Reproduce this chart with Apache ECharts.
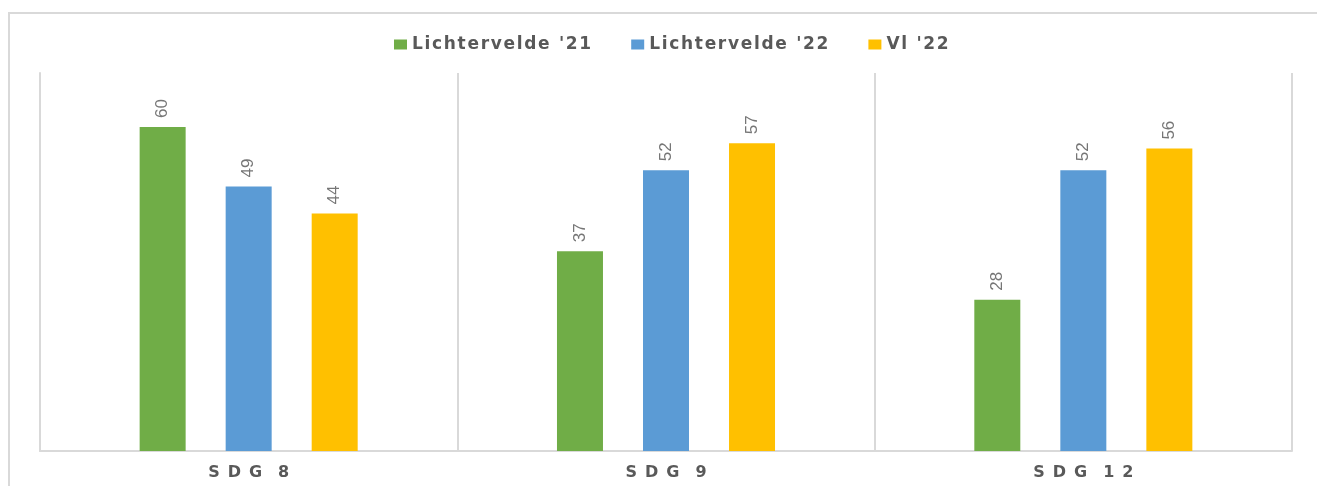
<!DOCTYPE html>
<html>
<head>
<meta charset="utf-8">
<script src="https://cdn.jsdelivr.net/npm/echarts@6/dist/echarts.min.js"></script>
<style>
  html, body { margin: 0; padding: 0; background: #fff; }
  #chart { width: 1317px; height: 486px; }
</style>
</head>
<body>
<div id="chart"></div>
<script>
  const categories = ['SDG 8', 'SDG 9', 'SDG 12'];
  const seriesNames = ["Lichtervelde '21", "Lichtervelde '22", "Vl '22"];
  const lichtervelde21 = [60, 37, 28];
  const lichtervelde22 = [49, 52, 52];
  const vl22 = [44, 57, 56];
  const colors = ['#70ad47', '#5b9bd5', '#ffc000'];

  // expanded character spacing, like the original
  const spaced = (s, gap) => s.split('').join(gap);

  const chart = echarts.init(document.getElementById('chart'));

  const makeSeries = (name, data) => ({
    name,
    type: 'bar',
    data,
    barWidth: 46,
    barGap: '87%',
    label: {
      show: true,
      position: 'top',
      rotate: 90,
      align: 'left',
      verticalAlign: 'middle',
      distance: 9,
      color: '#767676',
      fontFamily: 'Liberation Sans Narrow, Liberation Sans, sans-serif',
      fontSize: 17
    }
  });

  chart.setOption({
    color: colors,
    animation: false,
    graphic: [
      {
        type: 'rect',
        shape: { x: 9, y: 13, width: 1400, height: 600 },
        style: { fill: 'none', stroke: '#d9d9d9', lineWidth: 2 },
        silent: true
      }
    ],
    legend: {
      top: 31,
      left: 389,
      itemWidth: 13,
      itemHeight: 10,
      itemGap: 40,
      icon: 'rect',
      formatter: name => spaced(name, '\u200A'),
      textStyle: {
        color: '#595959',
        fontWeight: 'bold',
        fontSize: 17,
        fontFamily: 'DejaVu Sans, sans-serif'
      },
      data: seriesNames
    },
    grid: {
      left: 40,
      right: 25,
      top: 73,
      bottom: 35,
      containLabel: false
    },
    xAxis: {
      type: 'category',
      data: categories,
      axisLine: { show: true, lineStyle: { color: '#d9d9d9', width: 2 } },
      axisTick: { show: false },
      splitLine: { show: true, lineStyle: { color: '#d9d9d9', width: 2 } },
      axisLabel: {
        color: '#595959',
        fontWeight: 'bold',
        fontSize: 16,
        margin: 14,
        fontFamily: 'DejaVu Sans, sans-serif',
        formatter: v => v.split(' ').map(w => spaced(w, '\u2002')).join('\u2002\u2002')
      }
    },
    yAxis: {
      type: 'value',
      min: 0,
      max: 70,
      show: true,
      axisLine: { show: true, lineStyle: { color: '#d9d9d9', width: 2 } },
      axisTick: { show: false },
      axisLabel: { show: false },
      splitLine: { show: false }
    },
    series: [
      makeSeries(seriesNames[0], lichtervelde21),
      makeSeries(seriesNames[1], lichtervelde22),
      makeSeries(seriesNames[2], vl22)
    ]
  });
</script>
</body>
</html>
